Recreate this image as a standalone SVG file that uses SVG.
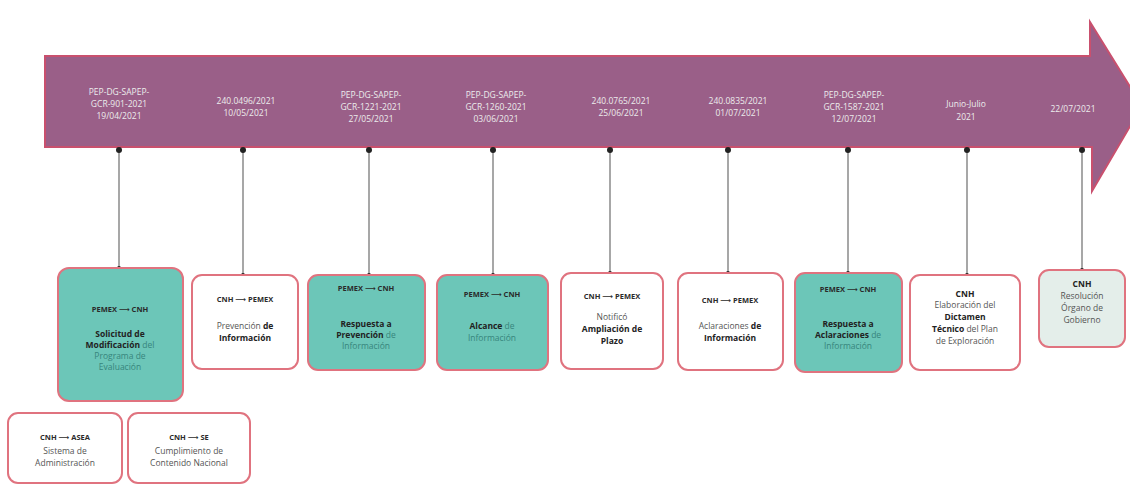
<svg xmlns="http://www.w3.org/2000/svg" width="1130" height="484" viewBox="0 0 1130 484">
<style>
.lbl{font-family:"Open Sans","Liberation Sans",sans-serif;font-size:8.5px;fill:#ececec;text-anchor:middle}
.box{stroke:#e0737f;stroke-width:2}
.teal{fill:#6cc6b8}
.wht{fill:#ffffff}
.pale{fill:#e4eeea}
.hd{font-family:"Open Sans","Liberation Sans",sans-serif;font-size:7.5px;font-weight:bold;fill:#2a2a2a;text-anchor:middle}
.ar{font-family:"DejaVu Sans",sans-serif;font-weight:normal}
.tx{font-family:"Open Sans","Liberation Sans",sans-serif;font-size:8.5px;fill:#555;text-anchor:middle}
.txt{font-family:"Open Sans","Liberation Sans",sans-serif;font-size:8.5px;fill:#37857c;text-anchor:middle}
.b{font-weight:bold;fill:#222}
.con line{stroke:#8a8a8a;stroke-width:1.5}
.con circle{fill:#222}
</style>
<g id="timeline">
<path d="M45,56 H1090 V22 L1142,106 L1092,191 V147 H45 Z" fill="#9a5f88" stroke="#c9506e" stroke-width="2"/>
<text class="lbl" x="119" y="95">PEP-DG-SAPEP-</text>
<text class="lbl" x="119" y="107">GCR-901-2021</text>
<text class="lbl" x="119" y="119">19/04/2021</text>
<text class="lbl" x="246" y="104">240.0496/2021</text>
<text class="lbl" x="246" y="116">10/05/2021</text>
<text class="lbl" x="371" y="98">PEP-DG-SAPEP-</text>
<text class="lbl" x="371" y="110">GCR-1221-2021</text>
<text class="lbl" x="371" y="122">27/05/2021</text>
<text class="lbl" x="496" y="98">PEP-DG-SAPEP-</text>
<text class="lbl" x="496" y="110">GCR-1260-2021</text>
<text class="lbl" x="496" y="122">03/06/2021</text>
<text class="lbl" x="621" y="104">240.0765/2021</text>
<text class="lbl" x="621" y="116">25/06/2021</text>
<text class="lbl" x="738" y="104">240.0835/2021</text>
<text class="lbl" x="738" y="116">01/07/2021</text>
<text class="lbl" x="854" y="98">PEP-DG-SAPEP-</text>
<text class="lbl" x="854" y="110">GCR-1587-2021</text>
<text class="lbl" x="854" y="122">12/07/2021</text>
<text class="lbl" x="966" y="107">Junio-Julio</text>
<text class="lbl" x="966" y="120">2021</text>
<text class="lbl" x="1073" y="112">22/07/2021</text>
</g>
<g id="connectors" class="con">
<line x1="119" y1="148" x2="119" y2="268"/><circle cx="119" cy="150" r="3"/><circle cx="119" cy="268" r="2"/>
<line x1="243" y1="148" x2="243" y2="275"/><circle cx="243" cy="150" r="3"/><circle cx="243" cy="275" r="2"/>
<line x1="369" y1="148" x2="369" y2="275"/><circle cx="369" cy="150" r="3"/><circle cx="369" cy="275" r="2"/>
<line x1="493" y1="148" x2="493" y2="275"/><circle cx="493" cy="150" r="3"/><circle cx="493" cy="275" r="2"/>
<line x1="610" y1="148" x2="610" y2="273"/><circle cx="610" cy="150" r="3"/><circle cx="610" cy="273" r="2"/>
<line x1="728" y1="148" x2="728" y2="273"/><circle cx="728" cy="150" r="3"/><circle cx="728" cy="273" r="2"/>
<line x1="848" y1="148" x2="848" y2="273"/><circle cx="848" cy="150" r="3"/><circle cx="848" cy="273" r="2"/>
<line x1="967" y1="148" x2="967" y2="275"/><circle cx="967" cy="150" r="3"/><circle cx="967" cy="275" r="2"/>
<line x1="1082" y1="148" x2="1082" y2="270"/><circle cx="1082" cy="150" r="3"/><circle cx="1082" cy="270" r="2"/>
</g>
<g id="n1">
<rect class="box teal" x="58" y="268" width="125" height="133" rx="11"/>
<text class="hd" x="120" y="312">PEMEX <tspan class="ar">⟶</tspan> CNH</text>
<text class="txt" x="120" y="337"><tspan class="b">Solicitud de</tspan></text>
<text class="txt" x="120" y="348"><tspan class="b">Modificación</tspan> del</text>
<text class="txt" x="120" y="359">Programa de</text>
<text class="txt" x="120" y="370">Evaluación</text>
</g>
<g id="n2">
<rect class="box wht" x="192" y="275" width="106" height="94" rx="10"/>
<text class="hd" x="245" y="302">CNH <tspan class="ar">⟶</tspan> PEMEX</text>
<text class="tx" x="245" y="329">Prevención <tspan class="b">de</tspan></text>
<text class="tx" x="245" y="341"><tspan class="b">Información</tspan></text>
</g>
<g id="n3">
<rect class="box teal" x="308" y="275" width="117" height="95" rx="10"/>
<text class="hd" x="366" y="291">PEMEX <tspan class="ar">⟶</tspan> CNH</text>
<text class="txt" x="366" y="327"><tspan class="b">Respuesta a</tspan></text>
<text class="txt" x="366" y="338"><tspan class="b">Prevención</tspan> de</text>
<text class="txt" x="366" y="349">Información</text>
</g>
<g id="n4">
<rect class="box teal" x="437" y="275" width="111" height="95" rx="10"/>
<text class="hd" x="492" y="297">PEMEX <tspan class="ar">⟶</tspan> CNH</text>
<text class="txt" x="492" y="329"><tspan class="b">Alcance</tspan> de</text>
<text class="txt" x="492" y="341">Información</text>
</g>
<g id="n5">
<rect class="box wht" x="561" y="273" width="102" height="96" rx="10"/>
<text class="hd" x="612" y="299">CNH <tspan class="ar">⟶</tspan> PEMEX</text>
<text class="tx" x="612" y="320">Notificó</text>
<text class="tx" x="612" y="332"><tspan class="b">Ampliación de</tspan></text>
<text class="tx" x="612" y="344"><tspan class="b">Plazo</tspan></text>
</g>
<g id="n6">
<rect class="box wht" x="678" y="273" width="105" height="97" rx="10"/>
<text class="hd" x="730" y="303">CNH <tspan class="ar">⟶</tspan> PEMEX</text>
<text class="tx" x="730" y="329">Aclaraciones <tspan class="b">de</tspan></text>
<text class="tx" x="730" y="341"><tspan class="b">Información</tspan></text>
</g>
<g id="n7">
<rect class="box teal" x="795" y="273" width="107" height="99" rx="10"/>
<text class="hd" x="848" y="292">PEMEX <tspan class="ar">⟶</tspan> CNH</text>
<text class="txt" x="848" y="327"><tspan class="b">Respuesta a</tspan></text>
<text class="txt" x="848" y="338"><tspan class="b">Aclaraciones</tspan> de</text>
<text class="txt" x="848" y="349">Información</text>
</g>
<g id="n8">
<rect class="box wht" x="910" y="275" width="110" height="95" rx="10"/>
<text class="tx b" x="965" y="297">CNH</text>
<text class="tx" x="965" y="308">Elaboración del</text>
<text class="tx" x="965" y="320"><tspan class="b">Dictamen</tspan></text>
<text class="tx" x="965" y="332"><tspan class="b">Técnico</tspan> del Plan</text>
<text class="tx" x="965" y="344">de Exploración</text>
</g>
<g id="n9">
<rect class="box pale" x="1039" y="270" width="86" height="77" rx="10"/>
<text class="tx b" x="1082" y="287">CNH</text>
<text class="tx" x="1082" y="299">Resolución</text>
<text class="tx" x="1082" y="311">Órgano de</text>
<text class="tx" x="1082" y="323">Gobierno</text>
</g>
<g id="n10">
<rect class="box wht" x="8" y="413" width="114" height="70" rx="10"/>
<text class="hd" x="65" y="440">CNH <tspan class="ar">⟶</tspan> ASEA</text>
<text class="tx" x="65" y="454">Sistema de</text>
<text class="tx" x="65" y="466">Administración</text>
</g>
<g id="n11">
<rect class="box wht" x="128" y="413" width="122" height="70" rx="10"/>
<text class="hd" x="189" y="440">CNH <tspan class="ar">⟶</tspan> SE</text>
<text class="tx" x="189" y="454">Cumplimiento de</text>
<text class="tx" x="189" y="466">Contenido Nacional</text>
</g>
</svg>
